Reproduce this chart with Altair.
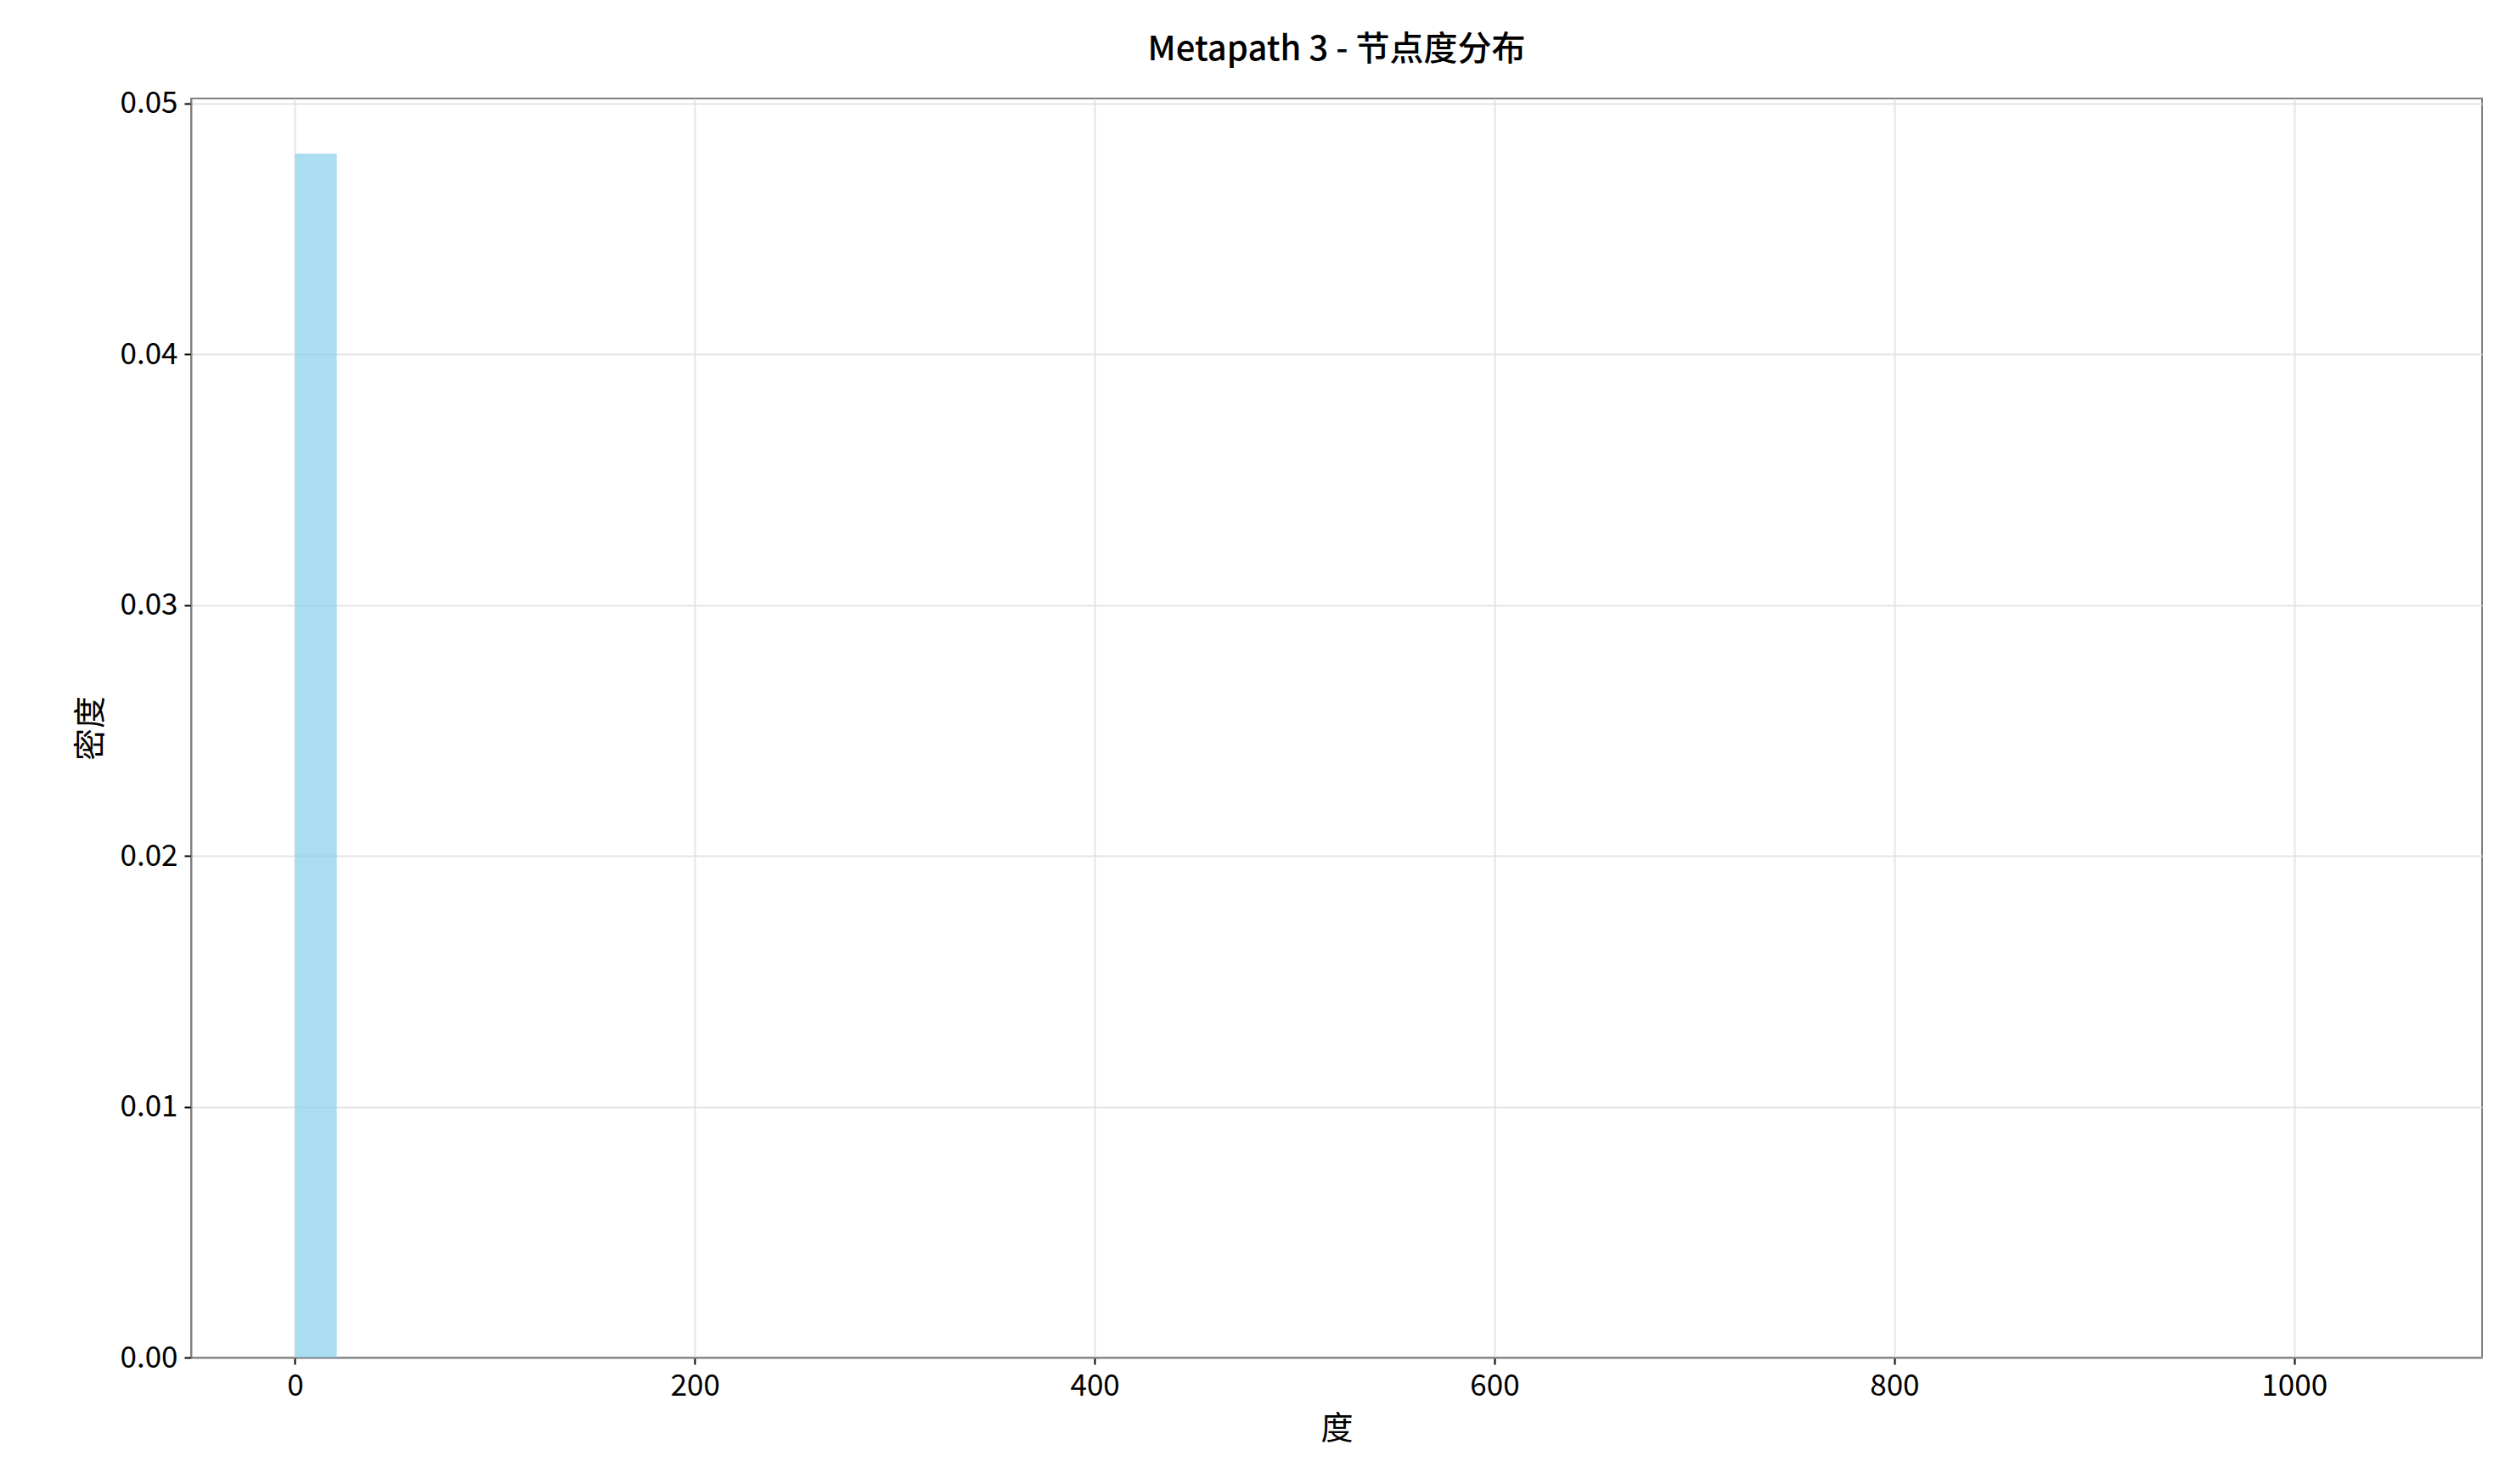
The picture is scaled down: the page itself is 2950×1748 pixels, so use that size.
import altair as alt
import pandas as pd

# histogram bins (degree) and density
bin_start = [0.0]
bin_end = [20.9]
density = [0.048]

df = pd.DataFrame({'start': bin_start, 'end': bin_end, 'density': density})

font = 'Noto Sans CJK SC'

chart = alt.Chart(df).mark_rect(color='skyblue', opacity=0.7).encode(
    x=alt.X('start:Q', title='度',
            scale=alt.Scale(domain=[-52, 1094], nice=False, zero=False),
            axis=alt.Axis(values=[0, 200, 400, 600, 800, 1000], format='d')),
    x2='end:Q',
    y=alt.Y('density:Q', title='密度',
            scale=alt.Scale(domain=[0, 0.0502], nice=False),
            axis=alt.Axis(values=[0, 0.01, 0.02, 0.03, 0.04, 0.05], format='.2f')),
    y2=alt.datum(0)
).properties(
    width=2698,
    height=1483,
    padding={'left': 80, 'top': 30, 'right': 10, 'bottom': 10},
    title=alt.Title('Metapath 3 - 节点度分布', fontSize=40, font=font,
                    fontWeight=500, offset=26)
).configure_view(
    stroke='#808080', strokeWidth=2
).configure_axis(
    labelFont=font, titleFont=font, labelFontSize=35, titleFontSize=38,
    titleFontWeight='normal', labelColor='black', titleColor='black',
    gridColor='#dddddd', gridOpacity=0.8, gridWidth=2,
    domainColor='#808080', domainWidth=2, tickColor='black', tickSize=8, tickWidth=2,
    labelPadding=8, titlePadding=14
)

chart.save("out.html", embed_options={"renderer": "svg", "actions": False})
